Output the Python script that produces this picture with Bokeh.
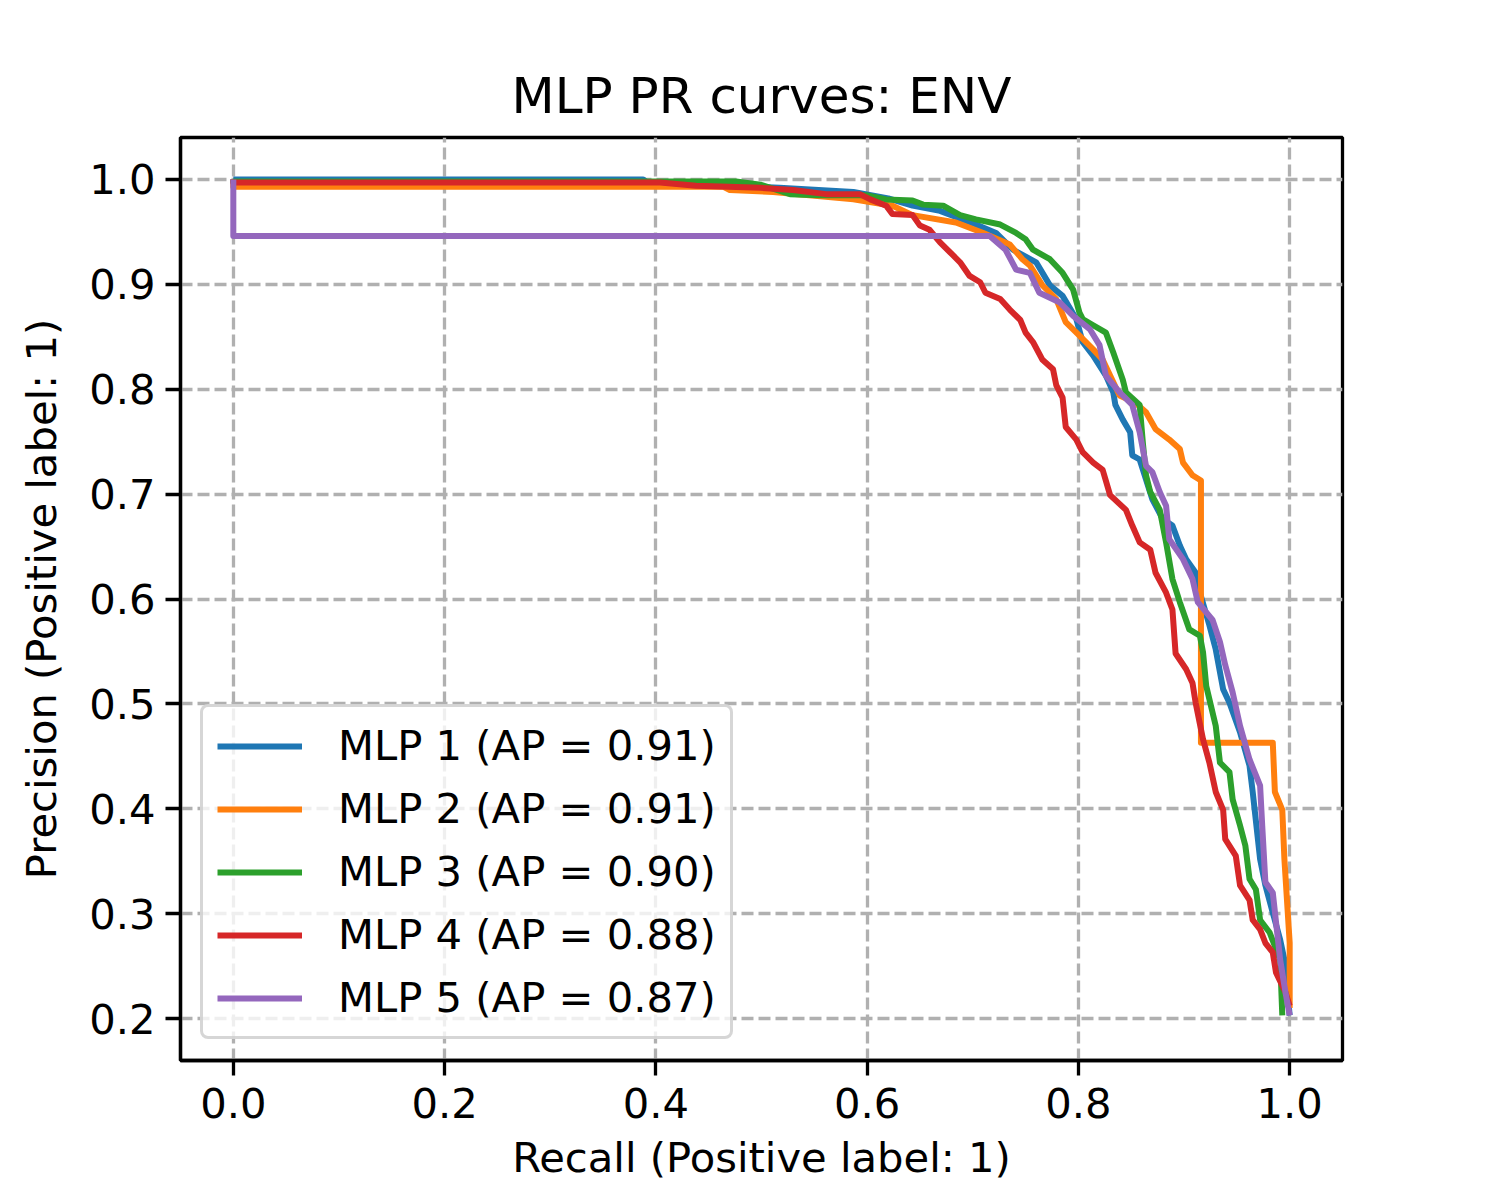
from bokeh.plotting import figure
from bokeh.models import FixedTicker, PrintfTickFormatter, Legend, LegendItem, Range1d
from bokeh.embed import file_html
from bokeh.resources import INLINE

title_text = "MLP PR curves: ENV"
x_label = "Recall (Positive label: 1)"
y_label = "Precision (Positive label: 1)"
x_ticks = [0.0, 0.2, 0.4, 0.6, 0.8, 1.0]
y_ticks = [0.2, 0.3, 0.4, 0.5, 0.6, 0.7, 0.8, 0.9, 1.0]

names = ["MLP 1", "MLP 2", "MLP 3", "MLP 4", "MLP 5"]
ap_values = [0.91, 0.91, 0.90, 0.88, 0.87]
colors = ["#1f77b4", "#ff7f0e", "#2ca02c", "#d62728", "#9467bd"]

recall_1 = [0, 0.388, 0.392, 0.46, 0.517, 0.587, 0.62, 0.643, 0.669, 0.703,
            0.722, 0.738, 0.760, 0.773, 0.785, 0.798, 0.804, 0.814, 0.826, 0.833,
            0.835, 0.842, 0.849, 0.851, 0.858, 0.870, 0.880, 0.889, 0.896, 0.902,
            0.911, 0.915, 0.924, 0.930, 0.937, 0.943, 0.953, 0.962, 0.965, 0.972,
            0.977, 0.984, 0.991, 0.995, 1.0]
precision_1 = [1.0, 1.0, 0.997, 0.995, 0.992, 0.988, 0.982, 0.975, 0.970, 0.957,
               0.949, 0.933, 0.921, 0.899, 0.889, 0.867, 0.845, 0.832, 0.813, 0.797,
               0.785, 0.771, 0.759, 0.737, 0.733, 0.695, 0.676, 0.670, 0.651, 0.638,
               0.625, 0.606, 0.575, 0.552, 0.514, 0.501, 0.473, 0.441, 0.416, 0.352,
               0.327, 0.301, 0.275, 0.256, 0.203]

recall_2 = [0, 0, 0.34, 0.464, 0.47, 0.511, 0.587, 0.624, 0.643, 0.684, 0.710,
            0.735, 0.747, 0.754, 0.766, 0.779, 0.788, 0.801, 0.814, 0.823, 0.830,
            0.839, 0.854, 0.864, 0.873, 0.886, 0.896, 0.899, 0.908, 0.916, 0.916,
            0.984, 0.986, 0.993, 0.995, 0.998, 1.0, 1.0]
precision_2 = [1.0, 0.993, 0.993, 0.993, 0.99, 0.988, 0.981, 0.975, 0.966, 0.959, 0.949,
               0.938, 0.924, 0.918, 0.899, 0.886, 0.864, 0.851, 0.838, 0.828, 0.813,
               0.794, 0.787, 0.778, 0.762, 0.752, 0.743, 0.730, 0.718, 0.713, 0.463,
               0.463, 0.416, 0.399, 0.352, 0.304, 0.272, 0.21]

recall_3 = [0, 0, 0.404, 0.476, 0.499, 0.527, 0.555, 0.599, 0.618, 0.643, 0.653,
            0.672, 0.688, 0.703, 0.726, 0.741, 0.750, 0.757, 0.773, 0.785, 0.795,
            0.801, 0.804, 0.814, 0.826, 0.833, 0.842, 0.845, 0.858, 0.861, 0.864,
            0.868, 0.877, 0.883, 0.889, 0.896, 0.905, 0.915, 0.918, 0.921, 0.930,
            0.934, 0.943, 0.946, 0.953, 0.958, 0.962, 0.968, 0.972, 0.981, 0.991,
            0.993]
precision_3 = [1.0, 0.998, 0.998, 0.998, 0.995, 0.986, 0.985, 0.985, 0.981, 0.980, 0.976,
               0.975, 0.966, 0.962, 0.957, 0.949, 0.943, 0.933, 0.924, 0.911, 0.895,
               0.873, 0.867, 0.861, 0.854, 0.835, 0.809, 0.797, 0.785, 0.749, 0.718,
               0.702, 0.685, 0.654, 0.619, 0.597, 0.571, 0.565, 0.549, 0.517, 0.479,
               0.444, 0.435, 0.409, 0.384, 0.365, 0.333, 0.323, 0.294, 0.282, 0.256,
               0.203]

recall_4 = [0, 0, 0.341, 0.404, 0.438, 0.499, 0.530, 0.561, 0.593, 0.603,
            0.618, 0.624, 0.643, 0.650, 0.659, 0.669, 0.681, 0.688, 0.697, 0.707,
            0.712, 0.726, 0.735, 0.745, 0.750, 0.757, 0.766, 0.776, 0.779, 0.785,
            0.788, 0.798, 0.804, 0.814, 0.823, 0.830, 0.845, 0.851, 0.858, 0.868,
            0.873, 0.883, 0.889, 0.892, 0.902, 0.908, 0.911, 0.918, 0.924, 0.930,
            0.937, 0.939, 0.949, 0.953, 0.962, 0.965, 0.972, 0.977, 0.984, 0.987,
            0.996, 1.0]
precision_4 = [1.0, 0.997, 0.997, 0.997, 0.994, 0.992, 0.990, 0.986, 0.986, 0.981,
               0.975, 0.967, 0.966, 0.956, 0.952, 0.940, 0.928, 0.921, 0.908, 0.902,
               0.892, 0.886, 0.876, 0.866, 0.854, 0.845, 0.828, 0.819, 0.804, 0.792,
               0.764, 0.752, 0.740, 0.730, 0.723, 0.699, 0.685, 0.670, 0.654, 0.647,
               0.625, 0.606, 0.590, 0.548, 0.533, 0.520, 0.501, 0.466, 0.444, 0.416,
               0.399, 0.371, 0.355, 0.327, 0.313, 0.294, 0.285, 0.272, 0.263, 0.244,
               0.225, 0.212]

recall_5 = [0, 0, 0.716, 0.731, 0.741, 0.754, 0.763, 0.782, 0.795, 0.811,
            0.820, 0.826, 0.839, 0.851, 0.858, 0.864, 0.870, 0.877, 0.883, 0.886,
            0.899, 0.908, 0.913, 0.927, 0.934, 0.939, 0.946, 0.953, 0.962, 0.972,
            0.974, 0.977, 0.984, 0.991, 0.996, 1.0]
precision_5 = [1.0, 0.946, 0.946, 0.933, 0.914, 0.911, 0.892, 0.883, 0.870, 0.857,
               0.842, 0.813, 0.797, 0.785, 0.759, 0.727, 0.721, 0.702, 0.689, 0.657,
               0.638, 0.619, 0.597, 0.580, 0.559, 0.537, 0.511, 0.479, 0.447, 0.422,
               0.384, 0.330, 0.320, 0.256, 0.225, 0.203]

recalls = [recall_1, recall_2, recall_3, recall_4, recall_5]
precisions = [precision_1, precision_2, precision_3, precision_4, precision_5]

FONT = "DejaVu Sans"
TICK_PX = "41.7px"

p = figure(width=1484, height=1184,
           x_range=Range1d(-0.05, 1.05), y_range=Range1d(0.16, 1.04),
           output_backend="svg", toolbar_location=None,
           min_border_left=180, min_border_right=142,
           min_border_top=137, min_border_bottom=124,
           title=title_text)

p.title.text_font = FONT
p.title.text_font_size = "50px"
p.title.text_font_style = "normal"
p.title.text_color = "black"
p.title.align = "center"
p.title.standoff = 26

p.outline_line_color = "black"
p.outline_line_width = 3.3
p.outline_line_alpha = 1.0
p.background_fill_color = "white"
p.border_fill_color = "white"

for ax, ticks, lab in ((p.xaxis[0], x_ticks, x_label), (p.yaxis[0], y_ticks, y_label)):
    ax.ticker = FixedTicker(ticks=ticks)
    ax.formatter = PrintfTickFormatter(format="%.1f")
    ax.axis_label = lab
    ax.axis_label_text_font = FONT
    ax.axis_label_text_font_size = TICK_PX
    ax.axis_label_text_font_style = "normal"
    ax.axis_label_text_color = "black"
    ax.major_label_text_font = FONT
    ax.major_label_text_font_size = TICK_PX
    ax.major_label_text_color = "black"
    ax.major_tick_in = 0
    ax.major_tick_out = 15
    ax.major_tick_line_width = 3.3
    ax.major_tick_line_color = "black"
    ax.minor_tick_in = 0
    ax.minor_tick_out = 0
    ax.axis_line_width = 3.3
    ax.axis_line_color = "black"

p.xaxis[0].major_label_standoff = 12
p.yaxis[0].major_label_standoff = 10
p.xaxis[0].axis_label_standoff = 12
p.yaxis[0].axis_label_standoff = 20

p.xgrid.ticker = FixedTicker(ticks=x_ticks)
p.ygrid.ticker = FixedTicker(ticks=y_ticks)
for g in (p.xgrid[0], p.ygrid[0]):
    g.grid_line_color = "#b0b0b0"
    g.grid_line_width = 3.3
    g.grid_line_dash = "12 5"

items = []
for name, ap, col, r, pr in zip(names, ap_values, colors, recalls, precisions):
    rl = p.line(r, pr, line_color=col, line_width=6, line_join="round")
    items.append(LegendItem(label=f"{name} (AP = {ap:.2f})", renderers=[rl]))

legend = Legend(items=items, location=(20, 21))
legend.label_text_font = FONT
legend.label_text_font_size = TICK_PX
legend.label_text_color = "black"
legend.glyph_width = 85
legend.glyph_height = 42
legend.label_height = 42
legend.label_standoff = 36
legend.spacing = 14
legend.padding = 14
legend.margin = 0
legend.border_line_color = "#cccccc"
legend.border_line_width = 3.3
legend.border_line_alpha = 0.8
legend.background_fill_color = "white"
legend.background_fill_alpha = 0.8
if "border_radius" in legend.properties():
    legend.border_radius = 8
p.add_layout(legend)

open("out.html", "w").write(file_html(p, INLINE))
